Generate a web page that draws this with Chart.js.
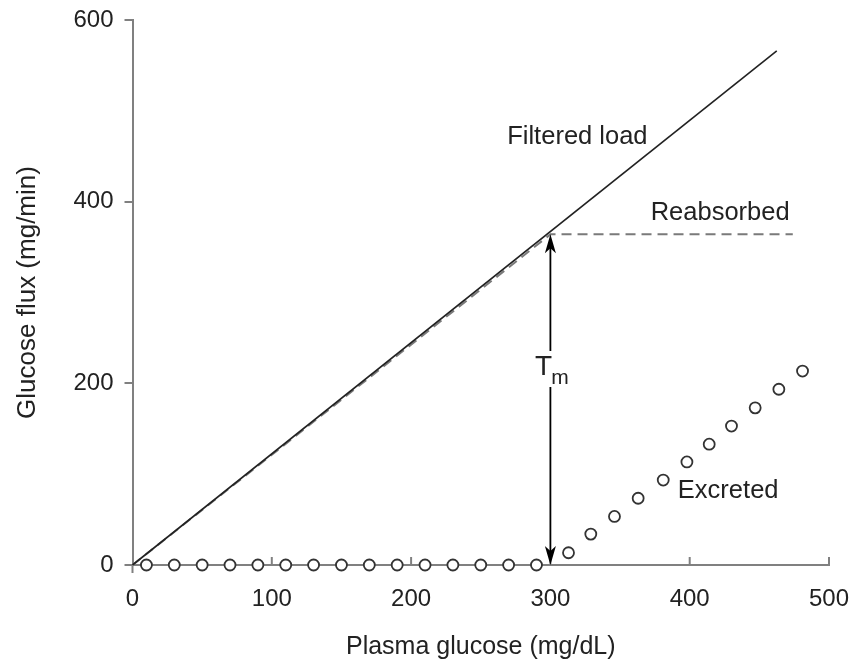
<!DOCTYPE html>
<html>
<head>
<meta charset="utf-8">
<title>Glucose titration curve</title>
<script src="https://cdn.jsdelivr.net/npm/chart.js@4/dist/chart.umd.min.js"></script>
<style>
  body { margin: 0; background: #fff; }
  #wrap { width: 850px; height: 664px; }
</style>
</head>
<body>
<div id="wrap"><canvas id="glucoseChart" width="850" height="664"></canvas></div>
<script>
// values
const filteredX = [0, 462.5];
const filteredY = [0, 566];

const reabsorbedX = [0, 300, 474];
const reabsorbedY = [0, 364, 364];

const excretedX = [10, 30, 50, 70, 90, 110, 130, 150, 170, 190, 210, 230, 250, 270, 290,
                   313, 329, 346, 363, 381, 398, 414, 430, 447, 464, 481];
const excretedY = [0, 0, 0, 0, 0, 0, 0, 0, 0, 0, 0, 0, 0, 0, 0,
                   13.5, 34, 53.5, 73.5, 93.5, 113.5, 133, 153, 173, 193.5, 213.5];

const xTicks = [0, 100, 200, 300, 400, 500];
const yTicks = [0, 200, 400, 600];

// Tm arrow: threshold plasma glucose, from 0 up to the transport maximum
const tmX = 300;
const tmY = [0, 364];

// text labels placed in data units
const labels = [
    { text: 'Filtered load', x: 269, y: 471 },
    { text: 'Reabsorbed', x: 372, y: 387.5 },
    { text: 'Excreted', x: 391.5, y: 81.5 }
];
const tmLabel = { x: 289, y: 218 };

const FONT = "'Liberation Sans', Arial, sans-serif";
const TEXT = '#222';
const AXIS = '#808080';

function toPoints(xs, ys) {
    return xs.map((x, i) => ({ x: x, y: ys[i] }));
}

// draws inward x ticks, the Tm arrow and the text labels
const annotationPlugin = {
    id: 'annotations',
    afterDatasetsDraw(chart) {
        const ctx = chart.ctx;
        const xs = chart.scales.x;
        const ys = chart.scales.y;
        const y0 = ys.getPixelForValue(0);

        ctx.save();
        // x ticks point up into the plot, the one at 0 points down
        ctx.strokeStyle = AXIS;
        ctx.lineWidth = 2;
        xTicks.forEach(v => {
            const px = xs.getPixelForValue(v);
            ctx.beginPath();
            ctx.moveTo(px, y0);
            ctx.lineTo(px, v === 0 ? y0 + 8 : y0 - 8);
            ctx.stroke();
        });

        // Tm double arrow
        const ax = xs.getPixelForValue(tmX);
        const aBottom = ys.getPixelForValue(tmY[0]);
        const aTop = ys.getPixelForValue(tmY[1]);
        const labY = ys.getPixelForValue(tmLabel.y);
        ctx.strokeStyle = '#000';
        ctx.fillStyle = '#000';
        ctx.lineWidth = 1.8;
        ctx.beginPath();
        ctx.moveTo(ax, aTop + 10);
        ctx.lineTo(ax, labY - 16);
        ctx.moveTo(ax, labY + 20);
        ctx.lineTo(ax, aBottom - 10);
        ctx.stroke();

        function head(tipY, dir) {
            ctx.beginPath();
            ctx.moveTo(ax, tipY);
            ctx.lineTo(ax - 5.5, tipY + dir * 19);
            ctx.lineTo(ax, tipY + dir * 14);
            ctx.lineTo(ax + 5.5, tipY + dir * 19);
            ctx.closePath();
            ctx.fill();
        }
        head(aTop, 1);
        head(aBottom, -1);

        // text
        ctx.fillStyle = TEXT;
        ctx.textBaseline = 'middle';
        ctx.textAlign = 'left';
        ctx.font = '25.5px ' + FONT;
        labels.forEach(l => {
            ctx.fillText(l.text, xs.getPixelForValue(l.x), ys.getPixelForValue(l.y));
        });

        const tx = xs.getPixelForValue(tmLabel.x);
        ctx.font = '28px ' + FONT;
        ctx.fillText('T', tx, labY);
        const tw = ctx.measureText('T').width;
        ctx.font = '21px ' + FONT;
        ctx.fillText('m', tx + tw - 1, labY + 11);
        ctx.restore();
    }
};

new Chart(document.getElementById('glucoseChart'), {
    type: 'scatter',
    data: {
        datasets: [
            {
                label: 'Filtered load',
                data: toPoints(filteredX, filteredY),
                showLine: true,
                borderColor: '#222',
                borderWidth: 1.6,
                pointRadius: 0,
                clip: false
            },
            {
                label: 'Reabsorbed',
                data: toPoints(reabsorbedX, reabsorbedY),
                showLine: true,
                borderColor: '#7a7a7a',
                borderWidth: 2,
                borderDash: [10, 6],
                pointRadius: 0,
                clip: false
            },
            {
                label: 'Excreted',
                data: toPoints(excretedX, excretedY),
                showLine: false,
                pointStyle: 'circle',
                pointRadius: 5.5,
                pointBorderWidth: 1.8,
                borderColor: '#333',
                backgroundColor: '#fff',
                pointBackgroundColor: '#fff',
                pointBorderColor: '#333',
                clip: false
            }
        ]
    },
    options: {
        responsive: false,
        animation: false,
        layout: { padding: { top: 20, right: 21, left: 0, bottom: 0 } },
        plugins: {
            legend: { display: false },
            tooltip: { enabled: false }
        },
        scales: {
            x: {
                type: 'linear',
                min: 0,
                max: 500,
                afterBuildTicks: scale => { scale.ticks = xTicks.map(v => ({ value: v })); },
                afterFit: scale => {
                    scale.height = 99;
                    scale.paddingLeft = 0;
                    scale.paddingRight = 0;
                },
                grid: { display: false, drawTicks: false },
                border: { display: true, color: AXIS, width: 2 },
                ticks: {
                    color: TEXT,
                    font: { family: FONT, size: 24 },
                    padding: 20,
                    maxRotation: 0
                },
                title: {
                    display: true,
                    text: 'Plasma glucose (mg/dL)',
                    color: TEXT,
                    font: { family: FONT, size: 25 },
                    padding: { top: 0, bottom: 2 }
                }
            },
            y: {
                type: 'linear',
                min: 0,
                max: 600,
                afterBuildTicks: scale => { scale.ticks = yTicks.map(v => ({ value: v })); },
                afterFit: scale => {
                    scale.width = 132.5;
                    scale.paddingTop = 0;
                    scale.paddingBottom = 0;
                },
                grid: {
                    drawOnChartArea: false,
                    drawTicks: true,
                    tickLength: 8,
                    color: AXIS,
                    lineWidth: 2
                },
                border: { display: true, color: AXIS, width: 2 },
                ticks: {
                    color: TEXT,
                    font: { family: FONT, size: 24 },
                    padding: 11
                },
                title: {
                    display: true,
                    text: 'Glucose flux (mg/min)',
                    color: TEXT,
                    font: { family: FONT, size: 26 },
                    padding: { top: 12, bottom: 0 }
                }
            }
        }
    },
    plugins: [annotationPlugin]
});
</script>
</body>
</html>
